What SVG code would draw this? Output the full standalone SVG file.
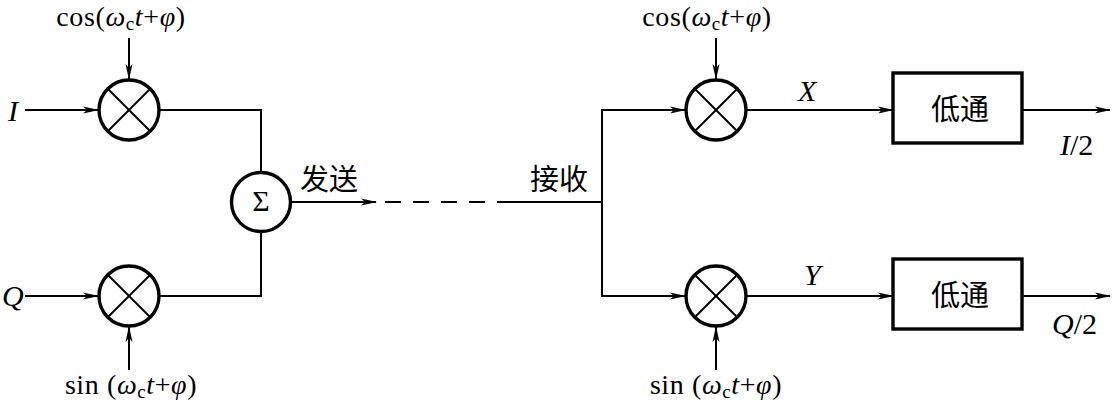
<svg xmlns="http://www.w3.org/2000/svg" width="1114" height="406" viewBox="0 0 1114 406">
<style>
.ln{fill:none;stroke:#000;stroke-width:2}
.circ{fill:#fff;stroke:#000;stroke-width:3.4}
.x{stroke:#000;stroke-width:2}
.box{fill:#fff;stroke:#000;stroke-width:3.4}
.t{font-family:"Liberation Serif","Times New Roman",serif;font-size:30px;fill:#000}
.f{font-size:28px;letter-spacing:0.6px}
.i{font-style:italic}
.cjk{font-family:"Noto Sans CJK SC",sans-serif;font-size:29px;fill:#000}
</style>
<defs>
<marker id="ah" markerWidth="16" markerHeight="9" refX="15" refY="4.5" orient="auto" markerUnits="userSpaceOnUse">
<path d="M0,1 L16,4.5 L0,8 L4,4.5 Z" fill="#000"/>
</marker>
</defs>
<rect width="1114" height="406" fill="#fff"/>
<g id="connectors">
<line class="ln" x1="25" y1="110" x2="98" y2="110" marker-end="url(#ah)"/>
<line class="ln" x1="25" y1="296" x2="98" y2="296" marker-end="url(#ah)"/>
<line class="ln" x1="129" y1="38" x2="129" y2="79" marker-end="url(#ah)"/>
<line class="ln" x1="129" y1="370" x2="129" y2="327" marker-end="url(#ah)"/>
<polyline class="ln" points="160,110 261,110 261,173"/>
<polyline class="ln" points="160,296 261,296 261,232"/>
<line class="ln" x1="291" y1="202" x2="376" y2="202" marker-end="url(#ah)"/>
<line class="ln" x1="385" y1="202" x2="510" y2="202" stroke-dasharray="16,12"/>
<line class="ln" x1="510" y1="202" x2="602" y2="202"/>
<polyline class="ln" points="685,110 602,110 602,296 685,296"/>
<line class="ln" x1="602" y1="110" x2="685" y2="110" marker-end="url(#ah)"/>
<line class="ln" x1="602" y1="296" x2="685" y2="296" marker-end="url(#ah)"/>
<line class="ln" x1="716" y1="38" x2="716" y2="79" marker-end="url(#ah)"/>
<line class="ln" x1="716" y1="370" x2="716" y2="327" marker-end="url(#ah)"/>
<line class="ln" x1="746" y1="110" x2="893" y2="110" marker-end="url(#ah)"/>
<line class="ln" x1="746" y1="296" x2="893" y2="296" marker-end="url(#ah)"/>
<line class="ln" x1="1022" y1="110" x2="1110" y2="110" marker-end="url(#ah)"/>
<line class="ln" x1="1022" y1="296" x2="1110" y2="296" marker-end="url(#ah)"/>
</g>
<g id="mul1">
<circle class="circ" cx="129" cy="110" r="30"/>
<line class="x" x1="108" y1="89" x2="150" y2="131"/>
<line class="x" x1="150" y1="89" x2="108" y2="131"/>
</g>
<g id="mul2">
<circle class="circ" cx="129" cy="296" r="30"/>
<line class="x" x1="108" y1="275" x2="150" y2="317"/>
<line class="x" x1="150" y1="275" x2="108" y2="317"/>
</g>
<g id="sum">
<circle class="circ" cx="261" cy="202" r="29.5"/>
<text class="t" x="261" y="211" text-anchor="middle" font-size="24">Σ</text>
</g>
<g id="mul3">
<circle class="circ" cx="716" cy="110" r="30"/>
<line class="x" x1="695" y1="89" x2="737" y2="131"/>
<line class="x" x1="737" y1="89" x2="695" y2="131"/>
</g>
<g id="mul4">
<circle class="circ" cx="716" cy="296" r="30"/>
<line class="x" x1="695" y1="275" x2="737" y2="317"/>
<line class="x" x1="737" y1="275" x2="695" y2="317"/>
</g>
<g id="lpf1">
<rect class="box" x="893" y="73" width="129" height="70"/>
<text class="cjk" x="960" y="120" text-anchor="middle">低通</text>
</g>
<g id="lpf2">
<rect class="box" x="893" y="259" width="129" height="70"/>
<text class="cjk" x="960" y="306" text-anchor="middle">低通</text>
</g>
<g id="labels">
<text class="t f" x="121" y="26" text-anchor="middle">cos(<tspan class="i">ω</tspan><tspan font-size="19" dy="4">c</tspan><tspan class="i" dy="-4">t</tspan>+<tspan class="i">φ</tspan>)</text>
<text class="t f" x="131" y="394" text-anchor="middle">sin (<tspan class="i">ω</tspan><tspan font-size="19" dy="4">c</tspan><tspan class="i" dy="-4">t</tspan>+<tspan class="i">φ</tspan>)</text>
<text class="t f" x="707" y="26" text-anchor="middle">cos(<tspan class="i">ω</tspan><tspan font-size="19" dy="4">c</tspan><tspan class="i" dy="-4">t</tspan>+<tspan class="i">φ</tspan>)</text>
<text class="t f" x="716" y="394" text-anchor="middle">sin (<tspan class="i">ω</tspan><tspan font-size="19" dy="4">c</tspan><tspan class="i" dy="-4">t</tspan>+<tspan class="i">φ</tspan>)</text>
<text class="t i" x="8" y="121">I</text>
<text class="t i" x="2" y="306">Q</text>
<text class="cjk" x="300" y="190">发送</text>
<text class="cjk" x="530" y="190">接收</text>
<text class="t i" x="798" y="101">X</text>
<text class="t i" x="804" y="285">Y</text>
<text class="t" x="1060" y="155"><tspan class="i">I</tspan>/2</text>
<text class="t" x="1052" y="334"><tspan class="i">Q</tspan>/2</text>
</g>
</svg>
